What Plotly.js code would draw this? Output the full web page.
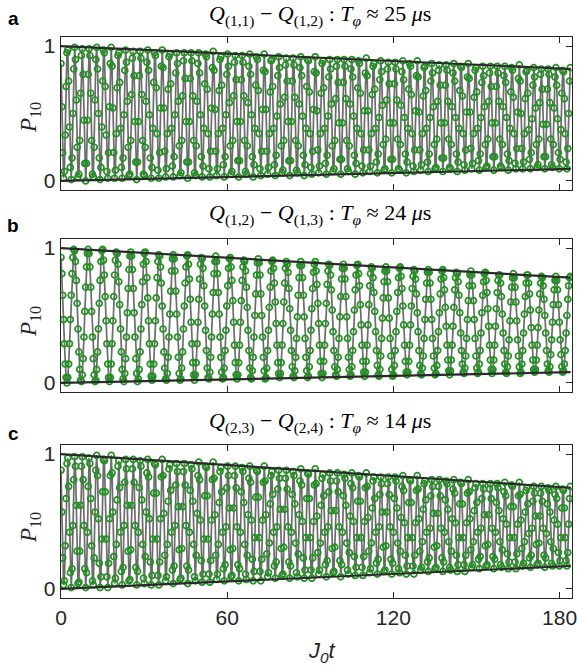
<!DOCTYPE html>
<html><head><meta charset="utf-8">
<script src="https://cdn.plot.ly/plotly-3.0.1.min.js"></script>
<style>html,body{margin:0;padding:0;background:#fff}#chart{width:577px;height:671px}</style>
</head><body><div id="chart"></div>
<script>
// time axis: J0 t, first sample and sample spacing
const T_START = 0;
const T_STEP = 0.307;
const ENV_T = [0, 184];

// Panel a : Q(1,1)-Q(1,2)
const P10_a = [
.87,.55,.21,.02,.07,.34,.70,.95,.97,.74,.40,.10,.01,.17,.50,.83,.99,.90,.60,.25,.03,.05,.30,.65,.93,.98,.79,.45,.13,0,.13,.45,.79,.98,.93,.65,.30,.05,.03,.25,.60,.90,.99,.83,.50,.17,.01,.10,.40,.74,.97,.95,.70,.34,.07,.02,.21,.55,.87,.99,
.85,.54,.21,.02,.08,.35,.69,.93,.95,.73,.39,.10,.02,.17,.49,.82,.97,.88,.59,.25,.04,.05,.30,.64,.91,.96,.78,.44,.14,.01,.14,.44,.78,.96,.91,.64,.30,.05,.04,.25,.59,.88,.97,.82,.49,.17,.02,.10,.39,.73,.95,.93,.69,.35,.08,.02,.21,.54,.85,.97,
.84,.54,.22,.03,.09,.35,.68,.92,.94,.72,.39,.11,.03,.18,.49,.80,.95,.87,.59,.26,.04,.06,.30,.63,.89,.95,.76,.44,.14,.02,.14,.44,.76,.95,.89,.63,.30,.06,.04,.26,.59,.87,.95,.80,.49,.18,.03,.11,.39,.72,.94,.92,.68,.35,.09,.03,.22,.54,.84,.96,
.82,.53,.22,.04,.09,.35,.67,.90,.92,.71,.39,.12,.03,.18,.49,.79,.94,.85,.58,.26,.05,.07,.30,.63,.88,.93,.75,.44,.15,.03,.15,.44,.75,.93,.88,.63,.30,.07,.05,.26,.58,.85,.94,.79,.49,.18,.03,.12,.39,.71,.92,.90,.67,.35,.09,.04,.22,.53,.82,.94,
.81,.53,.22,.05,.10,.35,.66,.89,.90,.70,.39,.12,.04,.19,.48,.78,.92,.84,.57,.26,.06,.08,.30,.62,.86,.91,.74,.44,.15,.04,.15,.44,.74,.91,.86,.62,.30,.08,.06,.26,.57,.84,.92,.78,.48,.19,.04,.12,.39,.70,.90,.89,.66,.35,.10,.05,.22,.53,.81,.92,
.80,.52,.23,.06,.11,.35,.65,.87,.89,.69,.39,.13,.05,.19,.48,.77,.90,.83,.57,.26,.07,.09,.30,.61,.85,.90,.73,.43,.16,.05,.16,.43,.73,.90,.85,.61,.30,.09,.07,.26,.57,.83,.90,.77,.48,.19,.05,.13,.39,.69,.89,.87,.65,.35,.11,.06,.23,.52,.80,.91,
.78,.52,.23,.07,.11,.35,.64,.85,.87,.68,.39,.14,.06,.20,.47,.75,.89,.81,.56,.27,.08,.09,.31,.60,.83,.88,.72,.43,.16,.06,.16,.43,.72,.88,.83,.60,.31,.09,.08,.27,.56,.81,.89,.75,.47,.20,.06,.14,.39,.68,.87,.85,.64,.35,.11,.07,.23,.52,.78,.89,
.77,.51,.23,.08,.12,.35,.63,.84,.85,.67,.39,.14,.07,.20,.47,.74,.87,.80,.55,.27,.09,.10,.31,.59,.82,.86,.71,.43,.17,.07,.17,.43,.71,.86,.82,.59,.31,.10,.09,.27,.55,.80,.87,.74,.47,.20,.07,.14,.39,.67,.85,.84,.63,.35,.12,.08,.23,.51,.77,.87,
.76,.51,.24,.09,.13,.35,.62,.82,.84,.66,.39,.15,.08,.20,.47,.73,.85,.78,.55,.27,.10,.11,.31,.59,.80,.85,.70,.43,.18,.08,.18,.43,.70,.85,.80,.59,.31,.11,.10,.27,.55,.78,.85,.73,.47,.20,.08,.15,.39,.66,.84,.82,.62,.35,.13,.09,.24,.51,.76,.86,
.74,.50,.24,.09,.14,.35,.61,.81,.82,.65,.38,.16,.09,.21,.46,.71,.84,.77,.54,.27,.10,.12,.31,.58,.79,.83,.68,.42,.18,.09,.18,.42,.68,.83,.79,.58,.31,.12,.10,.27,.54,.77,.84,.71,.46,.21,.09,.16,.38,.65,.82,.81,.61,.35,.14,.09,.24,.50,.74,.84
];
const envTop_a = [1.0, 0.83];
const envBot_a = [0.0, 0.09];

// Panel b : Q(1,2)-Q(1,3)
const P10_b = [
.93,.81,.65,.47,.29,.14,.04,0,.04,.14,.29,.47,.65,.81,.93,.99,.98,.90,.76,.59,.40,.23,.10,.02,.01,.06,.18,.34,.53,.71,.86,.96,.99,.96,.86,.71,.53,.34,.18,.06,.01,.02,.10,.23,.40,.59,.76,.90,.98,.99,
.91,.80,.64,.46,.29,.14,.04,.01,.04,.14,.29,.46,.64,.80,.91,.97,.96,.88,.75,.58,.40,.23,.10,.03,.01,.07,.18,.34,.52,.70,.84,.94,.97,.94,.84,.70,.52,.34,.18,.07,.01,.03,.10,.23,.40,.58,.75,.88,.96,.97,
.90,.78,.63,.46,.29,.14,.05,.02,.05,.14,.29,.46,.63,.78,.90,.95,.94,.86,.74,.57,.40,.23,.11,.03,.02,.07,.19,.34,.51,.68,.83,.92,.95,.92,.83,.68,.51,.34,.19,.07,.02,.03,.11,.23,.40,.57,.74,.86,.94,.95,
.88,.77,.62,.45,.29,.15,.06,.02,.06,.15,.29,.45,.62,.77,.88,.93,.92,.85,.72,.57,.39,.24,.11,.04,.03,.08,.19,.34,.51,.67,.81,.90,.94,.90,.81,.67,.51,.34,.19,.08,.03,.04,.11,.24,.39,.57,.72,.85,.92,.93,
.86,.76,.61,.45,.28,.15,.06,.03,.06,.15,.28,.45,.61,.76,.86,.91,.90,.83,.71,.56,.39,.24,.11,.04,.03,.09,.19,.34,.50,.66,.80,.89,.92,.89,.80,.66,.50,.34,.19,.09,.03,.04,.11,.24,.39,.56,.71,.83,.90,.91,
.85,.74,.60,.44,.28,.15,.07,.04,.07,.15,.28,.44,.60,.74,.85,.90,.88,.82,.70,.55,.39,.24,.12,.05,.04,.09,.19,.33,.49,.65,.78,.87,.90,.87,.78,.65,.49,.33,.19,.09,.04,.05,.12,.24,.39,.55,.70,.82,.88,.90,
.83,.73,.59,.44,.28,.16,.07,.04,.07,.16,.28,.44,.59,.73,.83,.88,.87,.80,.69,.54,.38,.24,.12,.06,.05,.10,.19,.33,.49,.64,.77,.85,.88,.85,.77,.64,.49,.33,.19,.10,.05,.06,.12,.24,.38,.54,.69,.80,.87,.88,
.81,.72,.58,.43,.28,.16,.08,.05,.08,.16,.28,.43,.58,.72,.81,.86,.85,.78,.67,.53,.38,.24,.13,.06,.05,.10,.20,.33,.48,.63,.75,.83,.86,.83,.75,.63,.48,.33,.20,.10,.05,.06,.13,.24,.38,.53,.67,.78,.85,.86,
.79,.70,.57,.43,.28,.16,.08,.06,.08,.16,.28,.43,.57,.70,.79,.84,.83,.77,.66,.52,.38,.24,.13,.07,.06,.11,.20,.33,.47,.62,.74,.82,.84,.82,.74,.62,.47,.33,.20,.11,.06,.07,.13,.24,.38,.52,.66,.77,.83,.84,
.78,.69,.56,.42,.28,.17,.09,.06,.09,.17,.28,.42,.56,.69,.78,.82,.81,.75,.65,.52,.37,.24,.14,.08,.07,.11,.20,.33,.47,.61,.72,.80,.83,.80,.72,.61,.47,.33,.20,.11,.07,.08,.14,.24,.37,.52,.65,.75,.81,.82,
.76,.67,.55,.42,.28,.17,.10,.07,.10,.17,.28,.42,.55,.67,.76,.80,.80,.74,.64,.51,.37,.24,.14,.08,.07,.12,.20,.32,.46,.60,.71,.78,.81,.78,.71,.60,.46,.32,.20,.12,.07,.08,.14,.24,.37,.51,.64,.74,.80,.80,
.74,.66,.54,.41,.28,.17,.10,.08,.10,.17,.28,.41,.54,.66,.74,.79,.78,.72,.62,.50,.37,.24,.14,.09,.08,.12,.21,.32,.45,.58,.69,.76,.79,.76,.69,.58,.45,.32,.21,.12,.08,.09,.14,.24,.37,.50,.62,.72,.78,.79
];
const envTop_b = [1.0, 0.78];
const envBot_b = [0.0, 0.08];

// Panel c : Q(2,3)-Q(2,4)
const P10_c = [
.88,.57,.23,.03,.06,.32,.67,.93,.97,.76,.42,.12,.01,.15,.47,.81,.98,.91,.62,.28,.04,.05,.28,.62,.91,.98,.81,.47,.15,.01,.12,.42,.76,.97,.93,.67,.32,.06,.03,.23,.57,.88,.99,.84,.52,.19,.01,.09,.37,.72,.96,.95,.72,.37,.09,.01,.19,.52,.84,.99,
.86,.57,.24,.04,.08,.33,.66,.91,.95,.75,.42,.13,.03,.16,.47,.79,.96,.89,.62,.28,.06,.07,.29,.62,.89,.96,.79,.47,.16,.03,.13,.42,.75,.95,.91,.66,.33,.08,.04,.24,.57,.86,.96,.83,.52,.20,.03,.10,.37,.71,.93,.92,.71,.37,.10,.03,.20,.52,.83,.96,
.84,.56,.25,.06,.09,.33,.65,.89,.92,.73,.42,.14,.04,.17,.47,.77,.93,.87,.61,.29,.07,.08,.30,.61,.87,.93,.77,.47,.17,.04,.14,.42,.73,.92,.89,.65,.33,.09,.06,.25,.56,.84,.94,.81,.51,.21,.05,.11,.37,.69,.91,.90,.69,.37,.11,.05,.21,.51,.81,.94,
.82,.55,.25,.07,.11,.33,.64,.87,.90,.72,.42,.15,.06,.18,.46,.75,.91,.84,.60,.29,.09,.10,.30,.60,.84,.91,.75,.46,.18,.06,.15,.42,.72,.90,.87,.64,.33,.11,.07,.25,.55,.82,.91,.79,.51,.22,.06,.13,.38,.68,.88,.87,.68,.38,.13,.06,.22,.51,.79,.91,
.80,.55,.26,.09,.12,.34,.63,.84,.87,.70,.42,.17,.08,.20,.46,.74,.88,.82,.59,.30,.10,.11,.31,.59,.82,.88,.74,.46,.20,.08,.17,.42,.70,.87,.84,.63,.34,.12,.09,.26,.55,.80,.89,.77,.50,.23,.08,.14,.38,.67,.86,.85,.67,.38,.14,.08,.23,.50,.77,.89,
.78,.54,.27,.11,.14,.34,.62,.82,.85,.69,.42,.18,.09,.21,.46,.72,.86,.80,.58,.30,.12,.13,.31,.58,.80,.86,.72,.46,.21,.09,.18,.42,.69,.85,.82,.62,.34,.14,.11,.27,.54,.78,.86,.75,.50,.24,.10,.16,.38,.65,.84,.83,.65,.38,.16,.10,.24,.50,.75,.86,
.76,.53,.28,.12,.15,.34,.60,.80,.83,.67,.42,.19,.11,.22,.46,.70,.83,.78,.57,.31,.13,.14,.32,.57,.78,.83,.70,.46,.22,.11,.19,.42,.67,.83,.80,.60,.34,.15,.12,.28,.53,.76,.84,.73,.49,.25,.11,.17,.38,.64,.81,.80,.64,.38,.17,.11,.25,.49,.73,.84,
.74,.52,.28,.14,.16,.35,.59,.78,.80,.66,.42,.20,.13,.23,.45,.69,.81,.76,.56,.31,.15,.16,.32,.56,.76,.81,.69,.45,.23,.13,.20,.42,.66,.80,.78,.59,.35,.16,.14,.28,.52,.74,.81,.71,.49,.25,.13,.18,.38,.63,.79,.78,.63,.38,.18,.13,.25,.49,.71,.81,
.72,.52,.29,.16,.18,.35,.58,.75,.78,.64,.42,.22,.15,.24,.45,.67,.78,.74,.55,.32,.17,.18,.33,.55,.74,.78,.67,.45,.24,.15,.22,.42,.64,.78,.75,.58,.35,.18,.16,.29,.52,.72,.79,.69,.48,.26,.15,.20,.38,.61,.77,.76,.61,.38,.20,.15,.26,.48,.69,.79,
.70,.51,.30,.17,.19,.35,.57,.73,.75,.63,.41,.23,.16,.25,.45,.65,.76,.71,.54,.33,.18,.19,.34,.54,.71,.76,.65,.45,.25,.16,.23,.41,.63,.75,.73,.57,.35,.19,.17,.30,.51,.70,.76,.67,.48,.27,.17,.21,.38,.60,.74,.73,.60,.38,.21,.17,.27,.48,.67,.76
];
const envTop_c = [1.0, 0.75];
const envBot_c = [0.0, 0.17];

const panelSeries = [P10_a, P10_b, P10_c];
const panelTop = [envTop_a, envTop_b, envTop_c];
const panelBot = [envBot_a, envBot_b, envBot_c];
const panelTitles = [
  '<i>Q</i><sub>(1,1)</sub> − <i>Q</i><sub>(1,2)</sub> : <i>T</i><sub><i>φ</i></sub> ≈ 25 <i>μ</i>s',
  '<i>Q</i><sub>(1,2)</sub> − <i>Q</i><sub>(1,3)</sub> : <i>T</i><sub><i>φ</i></sub> ≈ 24 <i>μ</i>s',
  '<i>Q</i><sub>(2,3)</sub> − <i>Q</i><sub>(2,4)</sub> : <i>T</i><sub><i>φ</i></sub> ≈ 14 <i>μ</i>s'
];
const panelLetters = ['a', 'b', 'c'];
const xTickVals = [0, 60, 120, 180];
const yTickVals = [0, 1];

// ---- layout geometry (pixels) ----
const W = 577, H = 671, L = 61, R = 5;
const plotW = W - L - R;
const boxes = [[37, 190], [239, 392], [445, 598]];
const titleY = [16, 215, 422];
const letterY = [18, 226, 433];
const ylabY = [118, 322, 528];
const px2x = p => (p - L) / plotW;
const px2y = p => 1 - p / H;

const AX = '#262626';
const traces = [];
const layout = {
  width: W, height: H,
  margin: {l: L, r: R, t: 0, b: 0},
  paper_bgcolor: '#fff', plot_bgcolor: '#fff',
  showlegend: false,
  annotations: []
};

for (let i = 0; i < 3; i++) {
  const sfx = i === 0 ? '' : String(i + 1);
  const xa = 'x' + sfx, ya = 'y' + sfx;
  traces.push({
    type: 'scatter', mode: 'lines+markers',
    x0: T_START, dx: T_STEP, y: panelSeries[i],
    xaxis: xa, yaxis: ya,
    line: {color: 'rgb(108,108,108)', width: 1.7},
    marker: {symbol: 'circle-open', size: 6, color: '#229122', line: {width: 1.7}},
    hoverinfo: 'skip'
  });
  traces.push({
    type: 'scatter', mode: 'lines', x: ENV_T, y: panelTop[i],
    xaxis: xa, yaxis: ya, line: {color: '#2a2a2a', width: 2.2}, hoverinfo: 'skip'
  });
  traces.push({
    type: 'scatter', mode: 'lines', x: ENV_T, y: panelBot[i],
    xaxis: xa, yaxis: ya, line: {color: '#2a2a2a', width: 2.2}, hoverinfo: 'skip'
  });
  layout['xaxis' + sfx] = {
    anchor: ya, domain: [0, 1], range: [0, 184.5],
    tickvals: xTickVals, ticks: 'inside', ticklen: 6, tickwidth: 1, tickcolor: AX,
    showline: true, linecolor: AX, linewidth: 1.3, mirror: 'ticks',
    showgrid: false, zeroline: false,
    showticklabels: i === 2, ticklabeloverflow: 'allow',
    tickfont: {family: 'Liberation Sans, Arial, sans-serif', size: 21, color: AX}
  };
  layout['yaxis' + sfx] = {
    anchor: xa, domain: [px2y(boxes[i][1]), px2y(boxes[i][0])],
    range: [-0.067, 1.067],
    tickvals: yTickVals, ticks: 'inside', ticklen: 6, tickwidth: 1, tickcolor: AX,
    showline: true, linecolor: AX, linewidth: 1.3, mirror: 'ticks',
    showgrid: false, zeroline: false,
    tickfont: {family: 'Liberation Sans, Arial, sans-serif', size: 21, color: AX}
  };
  layout.annotations.push({
    xref: 'paper', yref: 'paper', x: px2x(320), y: px2y(titleY[i]),
    xanchor: 'center', yanchor: 'middle', showarrow: false,
    text: panelTitles[i],
    font: {family: 'Liberation Serif, Times New Roman, serif', size: 22, color: '#000'}
  });
  layout.annotations.push({
    xref: 'paper', yref: 'paper', x: px2x(13), y: px2y(letterY[i]),
    xanchor: 'center', yanchor: 'middle', showarrow: false,
    text: '<b>' + panelLetters[i] + '</b>',
    font: {family: 'Liberation Sans, Arial, sans-serif', size: 19, color: '#000'}
  });
  layout.annotations.push({
    xref: 'paper', yref: 'paper', x: px2x(30), y: px2y(ylabY[i]),
    xanchor: 'center', yanchor: 'middle', showarrow: false, textangle: -90,
    text: '<i>P</i><sub>10</sub>',
    font: {family: 'Liberation Serif, Times New Roman, serif', size: 23, color: AX}
  });
}
layout.annotations.push({
  xref: 'paper', yref: 'paper', x: px2x(322), y: px2y(652),
  xanchor: 'center', yanchor: 'middle', showarrow: false,
  text: '<i>J<sub>0</sub>t</i>',
  font: {family: 'Liberation Sans, Arial, sans-serif', size: 22, color: AX}
});

Plotly.newPlot('chart', traces, layout, {displayModeBar: false, staticPlot: true});
</script>
</body></html>
